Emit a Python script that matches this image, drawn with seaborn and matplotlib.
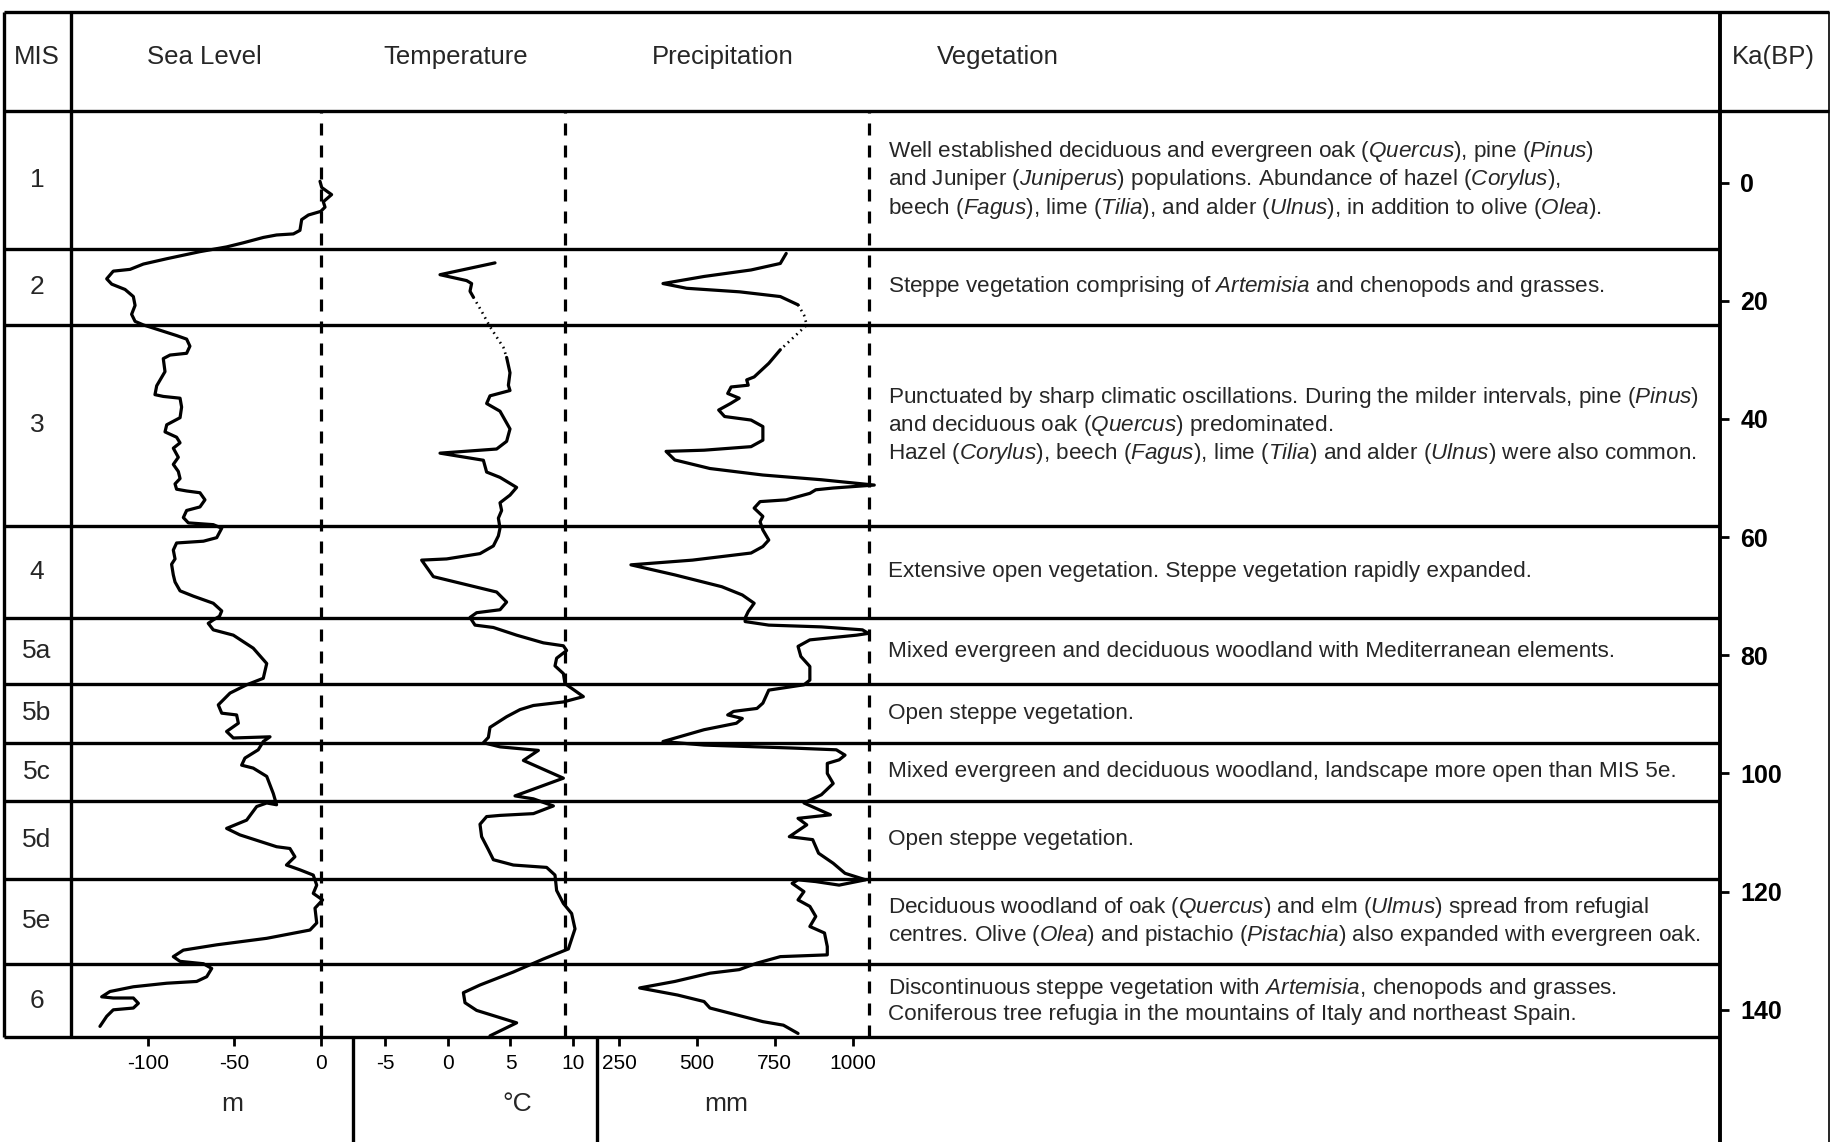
import matplotlib
matplotlib.use("Agg")
import matplotlib.pyplot as plt
import seaborn as sns
from matplotlib import font_manager

sns.set_style("white")

_installed = {f.name for f in font_manager.fontManager.ttflist}
FONT = "Liberation Sans" if "Liberation Sans" in _installed else "DejaVu Sans"
plt.rcParams["font.family"] = [FONT, "DejaVu Sans"]
plt.rcParams["mathtext.fontset"] = "custom"
plt.rcParams["mathtext.rm"] = FONT
plt.rcParams["mathtext.it"] = FONT + ":italic"
plt.rcParams["mathtext.bf"] = FONT + ":bold"

# ---------------------------------------------------------------- data
MIS_LABELS = ["1", "2", "3", "4", "5a", "5b", "5c", "5d", "5e", "6"]
# stage boundaries (ka BP) between consecutive rows
MIS_BOUNDS = [11.2, 24.1, 58.1, 73.7, 84.9, 94.8, 104.7, 117.8, 132.3]
AGE_TOP, AGE_BOTTOM = -12.1, 144.6
KA_TICKS = [0, 20, 40, 60, 80, 100, 120, 140]

VEGETATION = [
    "Well established deciduous and evergreen oak ($\\mathit{Quercus}$), pine ($\\mathit{Pinus}$)\n"
    "and Juniper ($\\mathit{Juniperus}$) populations. Abundance of hazel ($\\mathit{Corylus}$),\n"
    "beech ($\\mathit{Fagus}$), lime ($\\mathit{Tilia}$), and alder ($\\mathit{Ulnus}$), in addition to olive ($\\mathit{Olea}$).",
    "Steppe vegetation comprising of $\\mathit{Artemisia}$ and chenopods and grasses.",
    "Punctuated by sharp climatic oscillations. During the milder intervals, pine ($\\mathit{Pinus}$)\n"
    "and deciduous oak ($\\mathit{Quercus}$) predominated.\n"
    "Hazel ($\\mathit{Corylus}$), beech ($\\mathit{Fagus}$), lime ($\\mathit{Tilia}$) and alder ($\\mathit{Ulnus}$) were also common.",
    "Extensive open vegetation. Steppe vegetation rapidly expanded.",
    "Mixed evergreen and deciduous woodland with Mediterranean elements.",
    "Open steppe vegetation.",
    "Mixed evergreen and deciduous woodland, landscape more open than MIS 5e.",
    "Open steppe vegetation.",
    "Deciduous woodland of oak ($\\mathit{Quercus}$) and elm ($\\mathit{Ulmus}$) spread from refugial\n"
    "centres. Olive ($\\mathit{Olea}$) and pistachio ($\\mathit{Pistachia}$) also expanded with evergreen oak.",
    "Discontinuous steppe vegetation with $\\mathit{Artemisia}$, chenopods and grasses.\n"
    "Coniferous tree refugia in the mountains of Italy and northeast Spain.",
]

# sea level (m) against age (ka)
SEA_AGE = [-0.2, 0.85, 2.05, 3.26, 4.17, 4.89, 5.5, 6.28, 8.1, 8.7, 8.88, 9.3, 10.2, 10.9,
           11.7, 12.9, 13.8, 14.7, 15.0, 16.3, 17.2, 18.1, 19.3, 20.8, 22.3, 23.5, 24.1,
           25.0, 25.9, 26.5, 27.7, 28.9, 29.2, 29.8, 32.0, 34.4, 35.9, 36.2, 36.5, 38.0,
           39.8, 41.0, 42.2, 43.1, 44.05, 44.96, 46.5, 47.7, 48.9, 50.1, 51.0, 51.9, 52.2,
           52.5, 53.7, 54.9, 55.5, 56.7, 57.6, 57.9, 58.5, 60.1, 60.7, 61.0, 62.2, 63.7,
           64.6, 66.4, 67.6, 69.1, 70.0, 71.2, 72.5, 73.4, 74.0, 74.6, 75.7, 76.6, 78.8,
           81.4, 83.9, 85.0, 86.4, 88.4, 89.8, 90.1, 91.5, 92.9, 94.0, 93.8, 94.6, 96.0,
           97.4, 98.6, 99.1, 100.5, 103.4, 105.3, 105.0, 105.6, 107.9, 109.3, 110.4, 112.4,
           112.7, 114.1, 115.5, 116.3, 117.2, 118.9, 120.3, 121.4, 122.8, 125.3, 126.5,
           127.9, 129.0, 129.9, 131.0, 131.8, 132.2, 133.0, 134.4, 135.2, 135.5, 136.1,
           136.9, 137.8, 138.0, 138.0, 138.9, 139.7, 140.0, 141.1, 142.8]
SEA_M = [-0.4, 0.6, 6.3, 1.5, 2.5, 0.0, -7.1, -11.0, -12.0, -15.8, -25.5, -33.2, -44.7, -54.4,
         -69.8, -89.0, -102.5, -110.2, -119.9, -123.7, -120.8, -113.1, -108.3, -107.3, -109.3,
         -107.3, -102.5, -92.9, -83.3, -77.5, -75.6, -77.5, -87.1, -91.0, -90.0, -94.8, -95.8,
         -91.0, -81.3, -80.4, -81.3, -89.0, -90.0, -83.3, -81.3, -85.2, -82.3, -85.2, -82.3,
         -81.3, -84.2, -83.3, -77.5, -69.8, -66.9, -69.8, -77.5, -79.4, -76.5, -62.1, -57.2,
         -60.1, -67.8, -83.3, -85.2, -84.2, -86.2, -85.2, -84.2, -81.3, -73.6, -62.1, -57.2,
         -58.5, -62.0, -65.0, -62.1, -50.5, -39.0, -31.2, -33.2, -42.8, -52.4, -59.2, -57.2,
         -48.6, -47.6, -54.4, -50.5, -29.3, -33.2, -36.1, -43.8, -45.7, -39.0, -31.2, -27.4,
         -25.5, -31.2, -37.0, -42.8, -54.4, -46.7, -25.5, -17.8, -14.9, -19.8, -12.1, -4.3,
         -2.3, -4.3, 1.1, -3.3, -2.3, -6.2, -31.2, -60.1, -79.4, -85.2, -81.3, -67.8, -63.0,
         -65.9, -71.7, -89.0, -108.3, -121.8, -126.6, -119.9, -108.3, -105.4, -108.3, -119.9,
         -123.7, -127.6]

# mean annual temperature (deg C) against age (ka)
TEMP_AGE = [13.6, 15.6, 16.6, 17.1, 18.4, 19.4, 21.8, 24.4, 26.6, 27.9, 29.6, 32.2, 34.3,
            35.2, 36.1, 37.4, 38.7, 41.7, 43.8, 45.1, 45.8, 47.0, 49.0, 49.9, 51.6, 52.9,
            54.2, 55.5, 56.8, 58.5, 59.8, 61.5, 62.8, 63.7, 63.9, 66.7, 69.3, 71.0, 72.3,
            72.8, 73.6, 74.9, 75.3, 76.6, 77.9, 78.4, 79.2, 80.5, 81.8, 83.1, 84.8, 87.0,
            87.9, 88.5, 89.2, 90.4, 92.2, 93.9, 94.8, 95.5, 96.1, 97.8, 100.8, 103.8, 104.3,
            105.5, 106.8, 107.1, 107.3, 108.6, 110.7, 112.9, 114.6, 115.5, 115.9, 117.2,
            119.8, 122.0, 123.7, 126.3, 129.7, 131.4, 133.6, 135.8, 137.1, 138.8, 140.1,
            142.2, 144.4]
TEMP_C = [3.76, -0.64, 1.49, 1.89, 1.76, 2.03, 2.69, 3.36, 4.03, 4.43, 4.69, 4.96, 4.83,
          4.96, 3.36, 3.09, 4.16, 4.96, 4.69, 3.89, -0.64, 2.83, 3.09, 4.16, 5.49, 4.96,
          4.16, 4.29, 4.03, 4.16, 4.03, 3.63, 2.56, -0.11, -2.11, -1.17, 3.89, 4.69, 4.16,
          2.29, 1.76, 2.16, 3.63, 5.49, 7.63, 9.23, 9.49, 8.69, 8.56, 9.23, 9.36, 10.83,
          9.23, 6.83, 5.76, 4.69, 3.36, 3.23, 2.83, 4.16, 7.23, 6.03, 9.23, 5.36, 6.83,
          8.43, 6.83, 4.16, 3.09, 2.56, 2.69, 3.23, 3.63, 5.23, 7.89, 8.56, 8.69, 9.23,
          9.89, 10.16, 9.63, 7.63, 5.23, 2.56, 1.23, 1.36, 2.29, 5.49, 3.36]
TEMP_GAP = (19.4, 29.6)

# annual precipitation (mm) against age (ka)
PREC_AGE = [12.0, 13.7, 14.8, 15.9, 17.1, 17.9, 18.5, 19.3, 20.7, 22.4, 24.1, 25.5, 28.3,
            30.6, 32.9, 33.4, 34.3, 34.6, 35.7, 36.5, 37.4, 38.5, 39.6, 40.2, 41.3, 43.6,
            44.7, 45.3, 45.5, 46.95, 48.4, 49.5, 50.3, 51.2, 51.7, 52.0, 52.6, 53.7, 54.0,
            55.1, 56.5, 57.4, 58.8, 60.5, 61.6, 62.7, 63.9, 64.7, 66.4, 68.4, 69.8, 71.2,
            72.6, 73.7, 74.3, 74.9, 75.2, 75.7, 76.3, 76.6, 77.4, 78.5, 80.2, 81.9, 84.2,
            85.0, 85.9, 88.1, 89.0, 89.5, 90.1, 90.7, 91.5, 92.6, 94.6, 95.2, 95.7, 96.0,
            96.9, 97.7, 98.3, 100.0, 101.7, 103.6, 105.0, 107.0, 107.6, 108.7, 110.7, 111.2,
            113.5, 115.2, 116.9, 118.0, 118.9, 118.3, 118.0, 118.6, 120.0, 121.4, 122.5,
            124.2, 125.9, 127.0, 129.3, 130.7, 131.0, 132.1, 133.2, 133.8, 135.2, 136.3,
            137.5, 138.6, 139.7, 142.0, 142.6, 144.0]
PREC_MM = [787, 768, 674, 523, 391, 467, 637, 768, 825, 844, 853, 825, 768,
           731, 684, 660, 665, 610, 599, 636, 608, 570, 589, 674, 712, 712,
           674, 523, 401, 429, 542, 712, 900, 1070, 938, 882, 863, 787, 703,
           684, 712, 703, 712, 731, 712, 674, 486, 288, 429, 580, 646, 684,
           665, 655, 655, 731, 900, 1032, 1051, 1013, 863, 825, 834, 863, 863,
           844, 731, 712, 693, 618, 599, 646, 627, 523, 391, 523, 806, 948,
           976, 957, 919, 919, 938, 900, 844, 929, 825, 853, 797, 872,
           891, 938, 976, 1042, 957, 882, 825, 806, 844, 825, 863,
           882, 863, 910, 919, 919, 768, 693, 636, 542, 429, 316,
           438, 523, 542, 712, 778, 825]
PREC_GAP = (20.7, 28.3)

SEA_TICKS = [-100, -50, 0]
TEMP_TICKS = [-5, 0, 5, 10]
PREC_TICKS = [250, 500, 750, 1000]
SEA_REF, TEMP_REF, PREC_REF = 0, 9.4, 1053

HEADERS = ["MIS", "Sea Level", "Temperature", "Precipitation", "Vegetation", "Ka(BP)"]
UNITS = ["m", "\u00b0C", "mm"]

# ---------------------------------------------------------------- layout (pixels)
W, H = 1832, 1142
X_LEFT, X_MIS, X_KA, X_RIGHT = 3.5, 71, 1720, 1829
Y_TOP, Y_HEAD, Y_BODY_END = 12, 111, 1037
HEADER_X = [37, 204, 456, 723, 998, 1773]
HEADER_Y = 57
UNIT_X = [232, 517, 726]
UNIT_BASELINE = 1111
VEG_X = 888
MIS_X = 37
# x pixel of value 0 and pixels per unit for each curve panel
SEA_PX = (320.7, 1.73)
TEMP_PX = (448.0, 12.5)
PREC_PX = (541.3, 0.3112)
AX_W = X_KA - X_MIS
AX_H = Y_BODY_END - Y_HEAD

LW = 2.4
CURVE_LW = 2.3
DASH = (0, (12 * 0.72 / CURVE_LW, 10 * 0.72 / CURVE_LW))

fig = plt.figure(figsize=(W / 100, H / 100), dpi=100)
fig.patch.set_facecolor("white")

# table frame drawn in pixel space
frame = fig.add_axes([0, 0, 1, 1])
frame.set_xlim(0, W)
frame.set_ylim(H, 0)
frame.axis("off")
frame.hlines([Y_TOP, Y_HEAD], X_LEFT, X_RIGHT, color="black", lw=LW)
frame.hlines(Y_BODY_END, X_LEFT, X_KA, color="black", lw=LW)
frame.vlines([X_LEFT, X_MIS], Y_TOP, Y_BODY_END, color="black", lw=LW)
frame.vlines(X_KA, Y_TOP, H, color="black", lw=LW + 0.4)
frame.vlines(X_RIGHT, Y_TOP, H, color="black", lw=1.2)
frame.vlines([353, 597], Y_BODY_END, H, color="black", lw=LW)
for label, hx in zip(HEADERS, HEADER_X):
    frame.text(hx, HEADER_Y, label, ha="center", va="center", fontsize=18.5)

# curve panels sharing the age axis
pos = [X_MIS / W, 1 - Y_BODY_END / H, AX_W / W, AX_H / H]
ax_sea = fig.add_axes(pos)
ax_temp = ax_sea.twiny()
ax_prec = ax_sea.twiny()


def xlim_for(px):
    zero, scale = px
    return ((X_MIS - zero) / scale, (X_KA - zero) / scale)


def split_gap(ages, vals, gap):
    i0 = ages.index(gap[0])
    i1 = ages.index(gap[1])
    return ((ages[:i0 + 1], vals[:i0 + 1]),
            (ages[i0:i1 + 1], vals[i0:i1 + 1]),
            (ages[i1:], vals[i1:]))


def curve(ax, vals, ages, dotted=False):
    sns.lineplot(x=vals, y=ages, sort=False, estimator=None, ax=ax, color="black",
                 lw=1.9 if dotted else CURVE_LW,
                 linestyle=(0, (0.6, 1.6)) if dotted else "-",
                 solid_joinstyle="round", solid_capstyle="round")


curve(ax_sea, SEA_M, SEA_AGE)
for k, (a, v) in enumerate(split_gap(TEMP_AGE, TEMP_C, TEMP_GAP)):
    curve(ax_temp, v, a, dotted=(k == 1))
for k, (a, v) in enumerate(split_gap(PREC_AGE, PREC_MM, PREC_GAP)):
    curve(ax_prec, v, a, dotted=(k == 1))

ax_sea.axvline(SEA_REF, color="black", lw=CURVE_LW, linestyle=DASH)
ax_temp.axvline(TEMP_REF, color="black", lw=CURVE_LW, linestyle=DASH)
ax_prec.axvline(PREC_REF, color="black", lw=CURVE_LW, linestyle=DASH)

for ax, px, ticks in ((ax_sea, SEA_PX, SEA_TICKS), (ax_temp, TEMP_PX, TEMP_TICKS),
                      (ax_prec, PREC_PX, PREC_TICKS)):
    ax.set_xlim(*xlim_for(px))
    ax.set_facecolor("none")
    ax.grid(False)
    for s in ax.spines.values():
        s.set_visible(False)
    ax.xaxis.set_ticks_position("bottom")
    ax.set_xticks(ticks, labels=[str(t) for t in ticks])
    ax.tick_params(axis="x", direction="out", length=6.5, width=2.0, pad=6,
                   labelsize=15, colors="black")
    ax.set_xlabel("")
    ax.set_ylabel("")

ax_sea.set_ylim(AGE_BOTTOM, AGE_TOP)
ax_sea.yaxis.tick_right()
ax_sea.set_yticks(KA_TICKS, labels=[str(t) for t in KA_TICKS])
ax_sea.tick_params(axis="y", direction="out", length=6.5, width=2.0, pad=8,
                   labelsize=18, colors="black")
for lbl in ax_sea.get_yticklabels():
    lbl.set_fontweight("bold")

# unit captions under each scale
for unit, ux in zip(UNITS, UNIT_X):
    ax_sea.text((ux - X_MIS) / AX_W, (Y_BODY_END - UNIT_BASELINE) / AX_H, unit,
                transform=ax_sea.transAxes, ha="center", va="baseline", fontsize=19)

# stage rows: separators, labels and vegetation notes
ytrans = ax_sea.get_yaxis_transform()
ax_sea.hlines(MIS_BOUNDS, (X_LEFT - X_MIS) / AX_W, 1.0, transform=ytrans,
              color="black", lw=LW, clip_on=False)
edges = [AGE_TOP] + MIS_BOUNDS + [AGE_BOTTOM]
for i, (lab, note) in enumerate(zip(MIS_LABELS, VEGETATION)):
    mid = 0.5 * (edges[i] + edges[i + 1])
    ax_sea.text((MIS_X - X_MIS) / AX_W, mid, lab, transform=ytrans, ha="center",
                va="center", fontsize=19, clip_on=False)
    ax_sea.text((VEG_X - X_MIS) / AX_W, mid, note, transform=ytrans, ha="left",
                va="center", fontsize=16.2, linespacing=1.18, clip_on=False)

fig.savefig("out.png", dpi=100, facecolor="white")
